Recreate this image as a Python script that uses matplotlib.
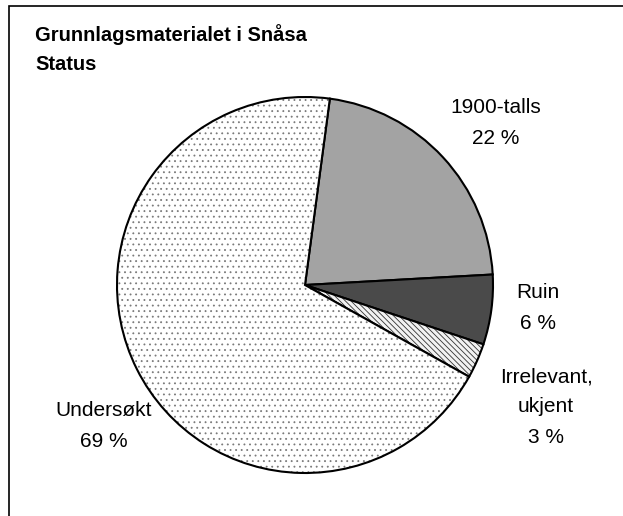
import matplotlib.pyplot as plt
from matplotlib.colors import to_rgba
from matplotlib.patches import Rectangle

plt.rcParams['font.family'] = ['Liberation Sans', 'DejaVu Sans']
plt.rcParams['hatch.linewidth'] = 0.6

# data
categories = ["1900-talls", "Ruin", "Irrelevant,\nukjent", "Undersøkt"]
shares = [22, 6, 3, 69]
face_colors = ["#a3a3a3", "#4a4a4a", "#f2f2f2", "white"]
hatches = [None, None, "\\\\\\\\\\\\", "..."]
hatch_colors = ["black", "black", "#333333", "#7a7a7a"]

W, H = 623, 516
fig = plt.figure(figsize=(W / 100, H / 100), dpi=100)

# frame (only left and top edges are visible in the original)
fig.patches.append(Rectangle((9 / W, -0.1), 1.2, (H - 6) / H + 0.1,
                             transform=fig.transFigure, fill=False,
                             edgecolor="black", linewidth=1.2))

# pie centre at (305, 285) px, radius 188 px
cx, cy, r = 305, 285, 188
ax = fig.add_axes([(cx - r) / W, (H - cy - r) / H, 2 * r / W, 2 * r / H])
wedges, _ = ax.pie(shares, startangle=82.4, counterclock=False,
                   colors=face_colors,
                   wedgeprops=dict(edgecolor="black", linewidth=1.5))
for w, h, hc in zip(wedges, hatches, hatch_colors):
    if h:
        w.set_hatch(h)
        w._hatch_color = to_rgba(hc)
ax.set_xlim(-1, 1)
ax.set_ylim(-1, 1)
ax.set_aspect("auto")
ax.axis("off")

# title
fig.text(35 / W, 1 - 35 / H, "Grunnlagsmaterialet i Snåsa", fontsize=14.5,
         fontweight="bold", ha="left", va="center")
fig.text(35 / W, 1 - 64 / H, "Status", fontsize=14.5,
         fontweight="bold", ha="left", va="center")

# slice labels
total = sum(shares)
label_pos = [(496, 123), (538, 308), (546, 407), (104, 426)]
for name, v, (x, y) in zip(categories, shares, label_pos):
    txt = f"{name}\n{round(v / total * 100)} %"
    fig.text(x / W, 1 - y / H, txt, fontsize=15, ha="center", va="center",
             linespacing=1.75)

fig.savefig("out.png", dpi=100)
